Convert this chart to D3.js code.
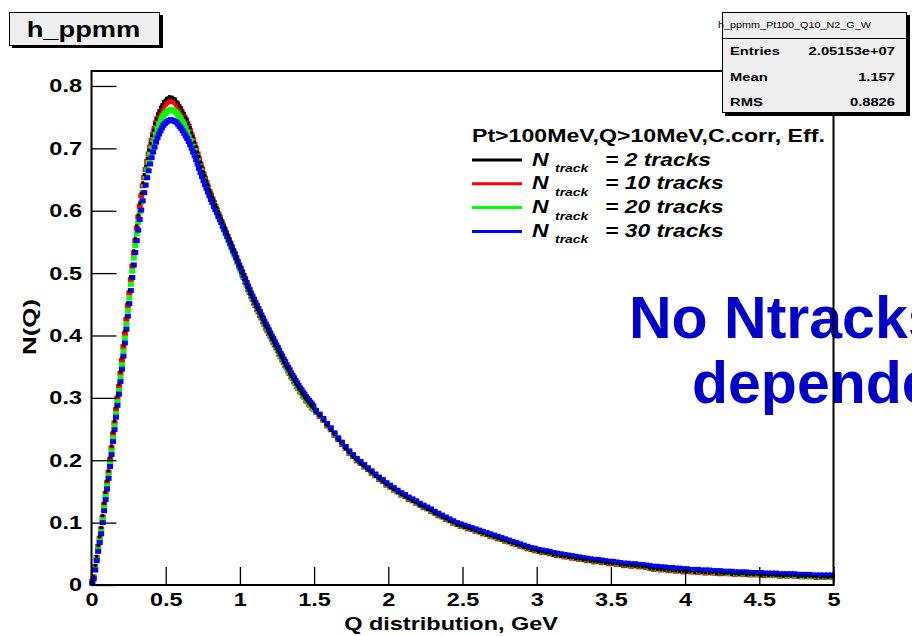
<!DOCTYPE html>
<html>
<head>
<meta charset="utf-8">
<script src="https://cdn.jsdelivr.net/npm/d3@7"></script>
<style>
  body { margin: 0; background: #fff; }
  svg { display: block; }
  text { font-family: "Liberation Sans", Arial, Helvetica, sans-serif; }
</style>
</head>
<body>
<svg id="chart" width="912" height="636"></svg>
<script>
// Binning of Q (GeV): 0.01 GeV bins up to 1.5 GeV, 0.025 GeV bins above
const fineBinWidth = 0.01;
const fineUpTo = 1.5;
const coarseBinWidth = 0.025;
const qRange = [0, 5];
const nRange = [0, 0.824];

const xMajorTicks = [0, 0.5, 1, 1.5, 2, 2.5, 3, 3.5, 4, 4.5, 5];
const xTickLabels = ["0", "0.5", "1", "1.5", "2", "2.5", "3", "3.5", "4", "4.5", "5"];
const yMajorTicks = [0, 0.1, 0.2, 0.3, 0.4, 0.5, 0.6, 0.7, 0.8];
const yTickLabels = ["0", "0.1", "0.2", "0.3", "0.4", "0.5", "0.6", "0.7", "0.8"];

const seriesNames = ["2", "10", "20", "30"];
const legendLabels = ["= 2 tracks", "= 10 tracks", "= 20 tracks", "= 30 tracks"];
const seriesColors = ["#000000", "#ff0000", "#00ff00", "#0000ff"];
const legendHeader = "Pt>100MeV,Q>10MeV,C.corr, Eff.";

const statsName = "h_ppmm_Pt100_Q10_N2_G_W";
const statsLabels = ["Entries", "Mean", "RMS"];
const statsValues = ["2.05153e+07", "1.157", "0.8826"];

// N(Q) per bin, N_track = 2
const nTrack2 = [
  0.005,0.014,0.031,0.046,0.063,0.077,0.092,0.111,0.131,0.149,
  0.167,0.183,0.204,0.223,0.245,0.263,0.285,0.303,0.322,0.342,
  0.364,0.385,0.407,0.429,0.452,0.471,0.494,0.514,0.536,0.556,
  0.576,0.593,0.612,0.628,0.645,0.658,0.672,0.684,0.697,0.708,
  0.720,0.729,0.739,0.747,0.755,0.760,0.766,0.770,0.775,0.777,
  0.780,0.781,0.783,0.782,0.782,0.780,0.779,0.775,0.773,0.768,
  0.765,0.760,0.756,0.750,0.746,0.739,0.733,0.725,0.719,0.710,
  0.703,0.694,0.687,0.678,0.671,0.662,0.656,0.648,0.642,0.634,
  0.629,0.622,0.617,0.610,0.605,0.598,0.593,0.586,0.581,0.574,
  0.569,0.562,0.557,0.550,0.545,0.538,0.533,0.526,0.520,0.513,
  0.508,0.501,0.496,0.489,0.484,0.477,0.472,0.466,0.461,0.455,
  0.451,0.445,0.441,0.435,0.431,0.425,0.421,0.415,0.411,0.405,
  0.402,0.396,0.392,0.386,0.383,0.377,0.373,0.368,0.364,0.358,
  0.355,0.349,0.346,0.340,0.337,0.332,0.329,0.324,0.321,0.316,
  0.313,0.309,0.306,0.302,0.299,0.295,0.293,0.289,0.287,0.283,
  0.276,0.271,0.263,0.256,0.248,0.241,0.232,0.226,0.218,0.212,
  0.205,0.200,0.194,0.190,0.184,0.180,0.174,0.170,0.165,0.161,
  0.156,0.153,0.148,0.145,0.141,0.138,0.134,0.132,0.127,0.125,
  0.121,0.119,0.114,0.112,0.108,0.106,0.102,0.100,0.096,0.095,
  0.092,0.091,0.088,0.087,0.084,0.083,0.080,0.079,0.076,0.075,
  0.072,0.071,0.068,0.067,0.064,0.063,0.060,0.059,0.056,0.056,
  0.053,0.053,0.051,0.051,0.048,0.048,0.046,0.046,0.044,0.044,
  0.042,0.042,0.040,0.040,0.038,0.038,0.037,0.037,0.035,0.035,
  0.034,0.034,0.032,0.032,0.031,0.031,0.030,0.030,0.029,0.029,
  0.026,0.026,0.025,0.025,0.024,0.024,0.023,0.023,0.022,0.022,
  0.021,0.022,0.020,0.021,0.020,0.020,0.019,0.020,0.018,0.019,
  0.018,0.019,0.017,0.018,0.017,0.018,0.016,0.017,0.016,0.017,
  0.015,0.016,0.015,0.016,0.015,0.015,0.014,0.015,0.014,0.015,
  0.013,0.014,0.013,0.014,0.013,0.013,0.012,0.013,0.012,0.013
];

// N_track = 10
const nTrack10 = [
  0.006,0.013,0.030,0.044,0.062,0.075,0.090,0.109,0.129,0.147,
  0.164,0.181,0.201,0.220,0.242,0.260,0.281,0.300,0.318,0.339,
  0.360,0.382,0.403,0.426,0.448,0.468,0.490,0.511,0.532,0.552,
  0.572,0.590,0.607,0.624,0.640,0.653,0.666,0.679,0.691,0.702,
  0.713,0.723,0.732,0.741,0.748,0.754,0.759,0.764,0.768,0.771,
  0.773,0.775,0.776,0.777,0.776,0.775,0.773,0.770,0.767,0.763,
  0.759,0.755,0.750,0.746,0.740,0.735,0.728,0.721,0.714,0.706,
  0.699,0.691,0.683,0.675,0.667,0.659,0.652,0.645,0.638,0.631,
  0.625,0.619,0.613,0.607,0.601,0.595,0.589,0.583,0.577,0.571,
  0.565,0.559,0.553,0.547,0.541,0.535,0.529,0.523,0.517,0.510,
  0.505,0.498,0.493,0.486,0.481,0.474,0.469,0.463,0.458,0.452,
  0.448,0.442,0.438,0.432,0.428,0.422,0.418,0.412,0.408,0.403,
  0.399,0.394,0.389,0.385,0.380,0.376,0.370,0.366,0.361,0.357,
  0.352,0.348,0.343,0.339,0.334,0.331,0.326,0.323,0.318,0.315,
  0.310,0.308,0.303,0.301,0.296,0.294,0.290,0.288,0.284,0.282,
  0.277,0.270,0.264,0.255,0.249,0.240,0.233,0.225,0.219,0.211,
  0.206,0.199,0.195,0.189,0.185,0.179,0.175,0.169,0.166,0.160,
  0.157,0.152,0.149,0.144,0.142,0.137,0.135,0.131,0.128,0.124,
  0.122,0.118,0.115,0.111,0.109,0.105,0.103,0.099,0.097,0.094,
  0.093,0.090,0.089,0.086,0.085,0.082,0.081,0.078,0.077,0.074,
  0.073,0.070,0.069,0.066,0.065,0.062,0.061,0.058,0.057,0.055,
  0.054,0.052,0.052,0.050,0.049,0.047,0.047,0.045,0.045,0.043,
  0.043,0.041,0.041,0.039,0.039,0.037,0.038,0.036,0.036,0.034,
  0.035,0.033,0.033,0.031,0.032,0.030,0.031,0.029,0.030,0.028,
  0.027,0.025,0.026,0.024,0.025,0.023,0.024,0.022,0.023,0.021,
  0.022,0.021,0.021,0.020,0.021,0.019,0.020,0.019,0.019,0.018,
  0.019,0.018,0.018,0.017,0.018,0.017,0.017,0.016,0.017,0.016,
  0.016,0.015,0.016,0.015,0.016,0.014,0.015,0.014,0.015,0.014,
  0.014,0.013,0.014,0.013,0.014,0.012,0.013,0.012,0.013,0.012
];

// N_track = 20
const nTrack20 = [
  0.004,0.012,0.027,0.042,0.058,0.072,0.086,0.105,0.124,0.142,
  0.159,0.176,0.196,0.215,0.236,0.255,0.275,0.294,0.312,0.333,
  0.353,0.375,0.396,0.418,0.440,0.460,0.482,0.503,0.524,0.544,
  0.563,0.581,0.598,0.614,0.629,0.642,0.655,0.667,0.679,0.690,
  0.700,0.709,0.718,0.726,0.733,0.739,0.744,0.749,0.753,0.756,
  0.758,0.760,0.761,0.762,0.761,0.760,0.759,0.756,0.753,0.750,
  0.746,0.742,0.738,0.733,0.729,0.723,0.717,0.711,0.704,0.697,
  0.690,0.683,0.676,0.668,0.661,0.654,0.647,0.640,0.634,0.627,
  0.621,0.615,0.610,0.604,0.598,0.592,0.587,0.581,0.575,0.569,
  0.563,0.558,0.552,0.546,0.540,0.534,0.529,0.523,0.517,0.511,
  0.505,0.499,0.494,0.488,0.482,0.476,0.471,0.465,0.460,0.455,
  0.450,0.445,0.440,0.435,0.430,0.425,0.420,0.415,0.410,0.406,
  0.401,0.396,0.391,0.387,0.382,0.377,0.372,0.368,0.363,0.359,
  0.354,0.349,0.345,0.341,0.336,0.332,0.328,0.324,0.320,0.316,
  0.312,0.309,0.305,0.302,0.298,0.295,0.292,0.289,0.286,0.283,
  0.278,0.272,0.265,0.257,0.250,0.242,0.234,0.227,0.220,0.213,
  0.207,0.201,0.196,0.191,0.186,0.181,0.176,0.171,0.167,0.162,
  0.158,0.154,0.150,0.146,0.143,0.139,0.136,0.133,0.129,0.126,
  0.123,0.120,0.116,0.113,0.110,0.107,0.104,0.101,0.098,0.096,
  0.094,0.092,0.090,0.088,0.086,0.084,0.082,0.080,0.078,0.076,
  0.074,0.072,0.070,0.068,0.066,0.064,0.062,0.060,0.058,0.057,
  0.055,0.054,0.053,0.052,0.050,0.049,0.048,0.047,0.046,0.045,
  0.044,0.043,0.042,0.041,0.040,0.039,0.039,0.038,0.037,0.036,
  0.036,0.035,0.034,0.033,0.033,0.032,0.032,0.031,0.031,0.030,
  0.028,0.027,0.027,0.026,0.026,0.025,0.025,0.024,0.025,0.023,
  0.023,0.023,0.022,0.022,0.022,0.021,0.021,0.021,0.020,0.020,
  0.020,0.019,0.019,0.019,0.018,0.019,0.018,0.018,0.017,0.018,
  0.017,0.017,0.016,0.017,0.016,0.016,0.016,0.015,0.016,0.015,
  0.015,0.014,0.015,0.014,0.014,0.014,0.013,0.014,0.013,0.013
];

// N_track = 30
const nTrack30 = [
  0.003,0.010,0.024,0.039,0.054,0.068,0.082,0.100,0.119,0.137,
  0.154,0.171,0.190,0.209,0.230,0.249,0.269,0.288,0.306,0.326,
  0.346,0.367,0.388,0.410,0.431,0.451,0.472,0.493,0.513,0.533,
  0.552,0.569,0.586,0.601,0.616,0.629,0.641,0.653,0.664,0.675,
  0.685,0.694,0.702,0.710,0.717,0.723,0.728,0.733,0.737,0.740,
  0.742,0.744,0.745,0.746,0.745,0.744,0.743,0.741,0.738,0.735,
  0.732,0.728,0.724,0.720,0.716,0.711,0.706,0.700,0.694,0.688,
  0.682,0.675,0.668,0.661,0.655,0.648,0.642,0.636,0.630,0.624,
  0.618,0.613,0.607,0.602,0.597,0.591,0.586,0.581,0.575,0.570,
  0.564,0.559,0.553,0.548,0.542,0.536,0.531,0.525,0.519,0.513,
  0.508,0.502,0.496,0.491,0.485,0.479,0.474,0.468,0.463,0.458,
  0.453,0.448,0.443,0.438,0.433,0.428,0.423,0.418,0.414,0.409,
  0.404,0.399,0.395,0.390,0.385,0.381,0.376,0.371,0.367,0.362,
  0.358,0.353,0.349,0.345,0.340,0.336,0.332,0.328,0.324,0.320,
  0.316,0.313,0.309,0.306,0.302,0.299,0.296,0.293,0.290,0.287,
  0.280,0.274,0.267,0.259,0.252,0.244,0.236,0.229,0.222,0.215,
  0.209,0.203,0.198,0.193,0.188,0.183,0.178,0.173,0.169,0.164,
  0.160,0.156,0.152,0.148,0.145,0.141,0.138,0.135,0.131,0.128,
  0.125,0.122,0.118,0.115,0.112,0.109,0.106,0.103,0.100,0.098,
  0.096,0.094,0.092,0.090,0.088,0.086,0.084,0.082,0.080,0.078,
  0.076,0.074,0.072,0.070,0.068,0.066,0.064,0.062,0.060,0.059,
  0.057,0.056,0.055,0.054,0.052,0.051,0.050,0.049,0.048,0.047,
  0.046,0.045,0.044,0.043,0.042,0.041,0.041,0.040,0.039,0.038,
  0.038,0.037,0.036,0.035,0.035,0.034,0.034,0.033,0.033,0.032,
  0.031,0.030,0.030,0.029,0.029,0.028,0.028,0.027,0.027,0.026,
  0.026,0.025,0.025,0.025,0.024,0.024,0.024,0.023,0.023,0.023,
  0.022,0.022,0.022,0.021,0.021,0.021,0.021,0.020,0.020,0.020,
  0.020,0.019,0.019,0.019,0.019,0.018,0.018,0.018,0.018,0.018,
  0.017,0.017,0.017,0.017,0.016,0.016,0.016,0.016,0.016,0.016
];

const seriesValues = [nTrack2, nTrack10, nTrack20, nTrack30];

// ---------------------------------------------------------------
const svg = d3.select("#chart");
const SX = 1.27;           // horizontal stretch of the canvas text
const frame = { left: 91.5, right: 833.5, top: 71, bottom: 585 };

const x = d3.scaleLinear().domain(qRange).range([frame.left, frame.right]);
const y = d3.scaleLinear().domain(nRange).range([frame.bottom, frame.top]);

// bin centres
const nFine = Math.round((fineUpTo - qRange[0]) / fineBinWidth);
const bins = d3.range(nTrack2.length).map(i => i < nFine
  ? qRange[0] + (i + 0.5) * fineBinWidth
  : fineUpTo + (i - nFine + 0.5) * coarseBinWidth);

function stretchedText(parent, px, py, str, opt) {
  return parent.append("text")
    .attr("transform", `translate(${px},${py}) scale(${opt.sx || SX},1)`)
    .attr("text-anchor", opt.anchor || "start")
    .attr("font-size", opt.size)
    .attr("font-weight", opt.weight || "bold")
    .attr("font-style", opt.style || "normal")
    .attr("fill", opt.fill || "#000")
    .text(str);
}

// Title box
const titleG = svg.append("g");
titleG.append("rect").attr("x", 12).attr("y", 15).attr("width", 151).attr("height", 33).attr("fill", "#000");
titleG.append("rect").attr("x", 9.5).attr("y", 12.5).attr("width", 150).attr("height", 33)
  .attr("fill", "#efefef").attr("stroke", "#000").attr("stroke-width", 1);
stretchedText(titleG, 83.5, 36.5, "h_ppmm", { size: 21.5, anchor: "middle" });

// Annotation
const note = svg.append("g").attr("fill", "#0000c8").attr("font-size", 59).attr("font-weight", "bold");
note.append("text").attr("x", 629).attr("y", 338).text("No Ntracks");
note.append("text").attr("x", 692).attr("y", 403).text("dependence");

// Data markers: coloured squares, the N_track = 2 points drawn last as small dots
const plot = svg.append("g");
[1, 2, 3].forEach(s => {
  plot.append("g").attr("fill", seriesColors[s])
    .selectAll("rect").data(seriesValues[s]).join("rect")
    .attr("x", (d, i) => x(bins[i]) - 3)
    .attr("y", d => y(d) - 2.5)
    .attr("width", 6).attr("height", 5);
});
plot.append("g").attr("fill", seriesColors[0])
  .selectAll("rect").data(seriesValues[0]).join("rect")
  .attr("x", (d, i) => x(bins[i]) - 1.5)
  .attr("y", d => y(d) - 1.5)
  .attr("width", 3).attr("height", 3);

// Axes
const xMinor = d3.range(0, 5.0001, 0.1).filter(v => Math.abs(v * 2 - Math.round(v * 2)) > 1e-6);
const yMinor = d3.range(0, 0.8201, 0.02).filter(v => Math.abs(v * 10 - Math.round(v * 10)) > 1e-6);

const xg = svg.append("g").attr("transform", `translate(0,${frame.bottom})`);
xg.call(d3.axisBottom(x).tickValues(xMinor).tickSize(-9).tickSizeOuter(0).tickFormat(""));
xg.call(d3.axisBottom(x).tickValues(xMajorTicks).tickSize(-18).tickSizeOuter(0)
  .tickFormat((d, i) => xTickLabels[i]));
xg.selectAll(".domain").remove();
xg.selectAll("line").attr("stroke", "#000").attr("stroke-width", 1.3);
xg.selectAll("text").attr("dy", null).attr("y", 21).attr("fill", "#000")
  .attr("font-size", 18.5).attr("font-weight", "bold").attr("font-family", null)
  .attr("transform", `scale(${SX},1)`);

const yg = svg.append("g").attr("transform", `translate(${frame.left},0)`);
yg.call(d3.axisLeft(y).tickValues(yMinor).tickSize(-13).tickSizeOuter(0).tickFormat(""));
yg.call(d3.axisLeft(y).tickValues(yMajorTicks).tickSize(-25).tickSizeOuter(0)
  .tickFormat((d, i) => yTickLabels[i]));
yg.selectAll(".domain").remove();
yg.selectAll("line").attr("stroke", "#000").attr("stroke-width", 1.3);
yg.selectAll("text").attr("x", -9.5 / SX).attr("fill", "#000")
  .attr("font-size", 18.5).attr("font-weight", "bold").attr("font-family", null)
  .attr("transform", `scale(${SX},1)`);

// Frame
svg.append("rect").attr("x", frame.left).attr("y", frame.top)
  .attr("width", frame.right - frame.left).attr("height", frame.bottom - frame.top)
  .attr("fill", "none").attr("stroke", "#000").attr("stroke-width", 2);

// Axis titles
stretchedText(svg, 558, 630, "Q distribution, GeV", { size: 18.5, anchor: "end" });
svg.append("text")
  .attr("transform", "translate(36,327) rotate(-90)")
  .attr("text-anchor", "middle").attr("font-size", 19).attr("font-weight", "bold")
  .attr("textLength", 56).attr("lengthAdjust", "spacingAndGlyphs")
  .text("N(Q)");

// Legend
const leg = svg.append("g");
stretchedText(leg, 472, 142, legendHeader, { size: 18.2 });
const legRowY = [160, 183.8, 207.6, 231.4];
seriesNames.forEach((name, i) => {
  const ly = legRowY[i];
  leg.append("line").attr("x1", 472).attr("x2", 522).attr("y1", ly).attr("y2", ly)
    .attr("stroke", seriesColors[i]).attr("stroke-width", 3);
  stretchedText(leg, 532, ly + 5.5, "N", { size: 18, style: "italic" });
  stretchedText(leg, 555, ly + 12, "track", { size: 11, style: "italic" });
  stretchedText(leg, 605, ly + 5.5, legendLabels[i], { size: 18, style: "italic" });
});

// Statistics box
const st = svg.append("g");
st.append("rect").attr("x", 725).attr("y", 15).attr("width", 185).attr("height", 101).attr("fill", "#000");
st.append("rect").attr("x", 722.5).attr("y", 12.5).attr("width", 184).attr("height", 100)
  .attr("fill", "#efefef").attr("stroke", "#000").attr("stroke-width", 1);
st.append("line").attr("x1", 722.5).attr("x2", 906.5).attr("y1", 38.5).attr("y2", 38.5)
  .attr("stroke", "#000").attr("stroke-width", 1);
stretchedText(st, 718, 27.5, statsName, { size: 8.5, weight: "normal" });
const statRowY = [55, 81, 106];
statsLabels.forEach((lab, i) => {
  stretchedText(st, 730, statRowY[i], lab, { size: 11.6 });
  stretchedText(st, 895, statRowY[i], statsValues[i], { size: 11.6, anchor: "end" });
});
</script>
</body>
</html>
